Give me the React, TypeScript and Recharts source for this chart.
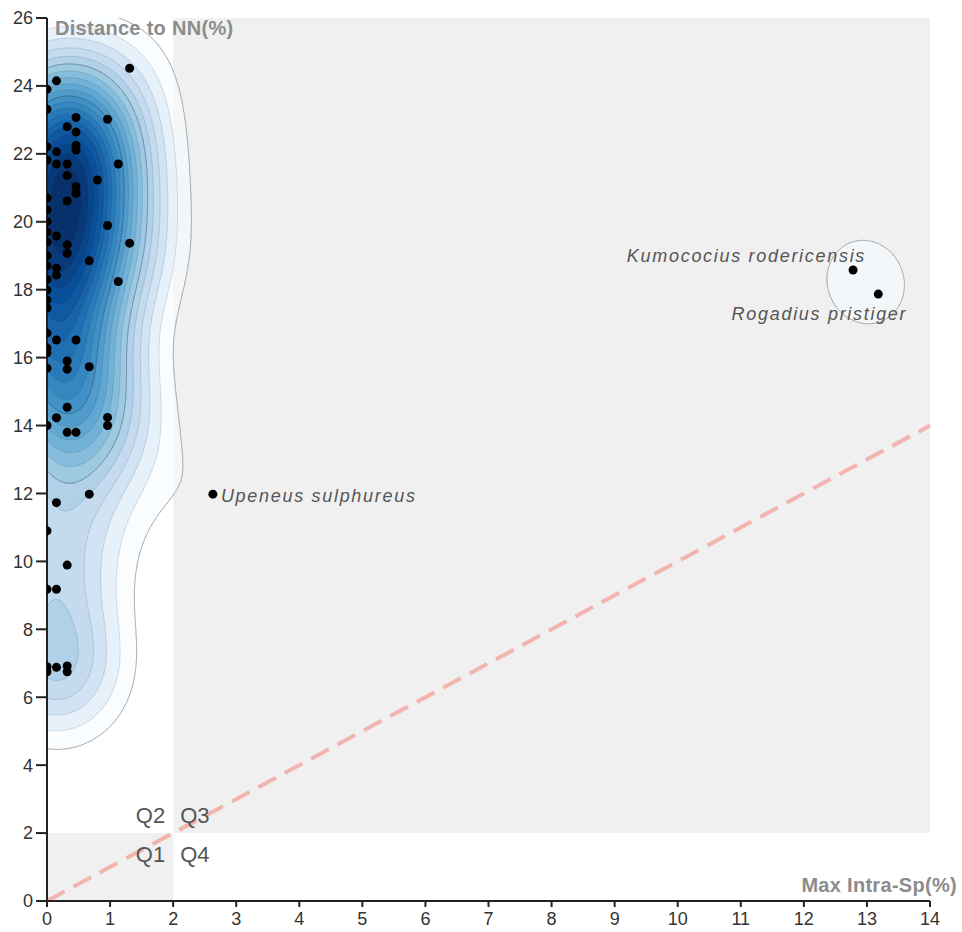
import React, { useMemo } from 'react';
import { ScatterChart, Scatter, XAxis, YAxis, ReferenceArea, ReferenceLine, ReferenceDot } from 'recharts';

// max intra-specific distance (%) of each species
const intraSp = [
  1.31, 0.15, 0, 0, 0.46, 0.96, 0.32, 0.46, 0.46, 0.46, 0.15, 0, 0, 0.15, 0.32, 1.13,
  0.32, 0.8, 0.46, 0.46, 0.32, 0, 0, 0, 0, 0, 0, 0, 0, 0, 0, 0,
  0.96, 1.31, 0.15, 0.32, 0.32, 0.67, 0.15, 0.15, 1.13, 0, 0.15, 0.46, 0, 0, 0.32, 0.32,
  0, 0.67, 0.32, 0.15, 0.96, 0.96, 0, 0.32, 0.46, 0.67, 0.15, 0, 0.32, 0, 0.15, 0,
  0, 0.15, 0.32, 0.32,
];
// distance to nearest neighbour (%) of each species
const nnDist = [
  24.52, 24.15, 23.9, 23.31, 23.07, 23.02, 22.8, 22.64, 22.25, 22.11, 22.06, 22.21, 21.82, 21.7, 21.7, 21.7,
  21.36, 21.23, 21.03, 20.84, 20.61, 20.7, 20.35, 20.0, 19.7, 19.4, 19.0, 18.7, 18.3, 17.99, 17.7, 17.46,
  19.89, 19.37, 19.58, 19.32, 19.07, 18.85, 18.63, 18.43, 18.24, 16.72, 16.52, 16.52, 16.28, 16.14, 15.9, 15.66,
  15.69, 15.73, 14.54, 14.23, 14.24, 14.0, 14.0, 13.8, 13.8, 11.98, 11.73, 10.9, 9.89, 9.18, 9.18, 6.9,
  6.75, 6.88, 6.92, 6.75,
];

const speciesNames = ['Upeneus sulphureus', 'Kumococius rodericensis', 'Rogadius pristiger'];
const speciesX = [2.63, 12.78, 13.18];
const speciesY = [11.98, 18.58, 17.87];

const quadrantNames = ['Q1', 'Q2', 'Q3', 'Q4'];

const xTicks = [0, 1, 2, 3, 4, 5, 6, 7, 8, 9, 10, 11, 12, 13, 14];
const yTicks = [0, 2, 4, 6, 8, 10, 12, 14, 16, 18, 20, 22, 24, 26];

const X_DOMAIN: [number, number] = [0, 14];
const Y_DOMAIN: [number, number] = [0, 26];
const THRESHOLD = 2;

const points = [
  ...intraSp.map((v, i) => ({ x: v, y: nnDist[i] })),
  ...speciesX.map((v, i) => ({ x: v, y: speciesY[i] })),
];

const FONT = '"Liberation Sans", Arial, Helvetica, sans-serif';

// label placement relative to the point, in px
const speciesLabelPos: Record<string, { dx: number; dy: number; anchor: 'start' | 'end' }> = {
  'Upeneus sulphureus': { dx: 8, dy: 8, anchor: 'start' },
  'Kumococius rodericensis': { dx: 13, dy: -8, anchor: 'end' },
  'Rogadius pristiger': { dx: 29, dy: 26, anchor: 'end' },
};
const quadrantPos: Record<string, { dx: number; dy: number; anchor: 'start' | 'end' }> = {
  Q1: { dx: -8, dy: 29, anchor: 'end' },
  Q2: { dx: -8, dy: -10, anchor: 'end' },
  Q3: { dx: 7, dy: -10, anchor: 'start' },
  Q4: { dx: 7, dy: 29, anchor: 'start' },
};

const BLUES = ['#f7fbff', '#deebf7', '#c6dbef', '#9ecae1', '#6baed6', '#4292c6', '#2171b5', '#08519c', '#08306b'];
function blues(t: number) {
  const s = Math.max(0, Math.min(1, t)) * (BLUES.length - 1);
  const i = Math.min(BLUES.length - 2, Math.floor(s));
  const f = s - i;
  const a = parseInt(BLUES[i].slice(1), 16);
  const b = parseInt(BLUES[i + 1].slice(1), 16);
  const ch = (sh: number) => Math.round(((a >> sh) & 255) * (1 - f) + ((b >> sh) & 255) * f);
  return `rgb(${ch(16)},${ch(8)},${ch(0)})`;
}

// gaussian kernel density in screen space, contoured with marching squares
const SIGMA_X = 46;
const SIGMA_Y = 50;
const OUTER = 1.35;
const BANDS = 20;
const CELL = 3;

function computeDensity(ox: number, oy: number, w: number, h: number) {
  const sx = (v: number) => ox + ((v - X_DOMAIN[0]) / (X_DOMAIN[1] - X_DOMAIN[0])) * w;
  const sy = (v: number) => oy + (1 - (v - Y_DOMAIN[0]) / (Y_DOMAIN[1] - Y_DOMAIN[0])) * h;
  const nx = Math.ceil(w / CELL) + 1;
  const ny = Math.ceil(h / CELL) + 1;
  const g = new Float64Array(nx * ny);
  const sx2 = 2 * SIGMA_X * SIGMA_X;
  const sy2 = 2 * SIGMA_Y * SIGMA_Y;
  for (const p of points) {
    const px = sx(p.x);
    const py = sy(p.y);
    const i0 = Math.max(0, Math.floor((px - ox - 4 * SIGMA_X) / CELL));
    const i1 = Math.min(nx - 1, Math.ceil((px - ox + 4 * SIGMA_X) / CELL));
    const j0 = Math.max(0, Math.floor((py - oy - 4 * SIGMA_Y) / CELL));
    const j1 = Math.min(ny - 1, Math.ceil((py - oy + 4 * SIGMA_Y) / CELL));
    for (let j = j0; j <= j1; j++) {
      const dy = oy + j * CELL - py;
      const ey = (dy * dy) / sy2;
      for (let i = i0; i <= i1; i++) {
        const dx = ox + i * CELL - px;
        g[j * nx + i] += Math.exp(-(dx * dx) / sx2 - ey);
      }
    }
  }
  let max = 0;
  for (let k = 0; k < g.length; k++) if (g[k] > max) max = g[k];
  const step = (max - OUTER) / BANDS;
  const thresholds = [OUTER];
  for (let k = 1; k < BANDS; k++) thresholds.push(OUTER + k * step);

  const X = (i: number) => Math.min(ox + i * CELL, ox + w);
  const Y = (j: number) => Math.min(oy + j * CELL, oy + h);
  const f = (v: number) => v.toFixed(1);

  const levels: { fill: string; line: string; k: number }[] = [];
  thresholds.forEach((t, k) => {
    const fill: string[] = [];
    const line: string[] = [];
    for (let j = 0; j < ny - 1; j++) {
      let run = -1;
      const flush = (end: number) => {
        if (run >= 0) {
          fill.push(`M${f(X(run))} ${f(Y(j))}H${f(X(end))}V${f(Y(j + 1))}H${f(X(run))}Z`);
          run = -1;
        }
      };
      for (let i = 0; i < nx - 1; i++) {
        const a = g[j * nx + i];
        const b = g[j * nx + i + 1];
        const c = g[(j + 1) * nx + i + 1];
        const d = g[(j + 1) * nx + i];
        const ia = a >= t, ib = b >= t, ic = c >= t, id = d >= t;
        if (ia && ib && ic && id) {
          if (run < 0) run = i;
          continue;
        }
        flush(i);
        if (!ia && !ib && !ic && !id) continue;
        const corners: [number, number, number, boolean][] = [
          [X(i), Y(j), a, ia],
          [X(i + 1), Y(j), b, ib],
          [X(i + 1), Y(j + 1), c, ic],
          [X(i), Y(j + 1), d, id],
        ];
        const pts: [number, number, boolean][] = [];
        for (let q = 0; q < 4; q++) {
          const p0 = corners[q];
          const p1 = corners[(q + 1) % 4];
          if (p0[3]) pts.push([p0[0], p0[1], false]);
          if (p0[3] !== p1[3]) {
            const r = (t - p0[2]) / (p1[2] - p0[2]);
            pts.push([p0[0] + (p1[0] - p0[0]) * r, p0[1] + (p1[1] - p0[1]) * r, true]);
          }
        }
        fill.push('M' + pts.map((p) => `${f(p[0])} ${f(p[1])}`).join('L') + 'Z');
        for (let q = 0; q < pts.length; q++) {
          const p0 = pts[q];
          const p1 = pts[(q + 1) % pts.length];
          if (p0[2] && p1[2]) line.push(`M${f(p0[0])} ${f(p0[1])}L${f(p1[0])} ${f(p1[1])}`);
        }
      }
      flush(nx - 1);
    }
    levels.push({ fill: fill.join(''), line: line.join(''), k });
  });
  return levels;
}

function bandColor(k: number) {
  const u = (k - 1) / (BANDS - 2);
  return blues(0.08 + 0.92 * Math.pow(u, 0.75));
}

function DensityLayer(props: any) {
  const { x, y, width, height } = props;
  const ok = [x, y, width, height].every((v) => Number.isFinite(v)) && width > 0 && height > 0;
  const levels = useMemo(() => (ok ? computeDensity(x, y, width, height) : null), [ok, x, y, width, height]);
  if (!levels) return null;
  return (
    <g>
      {levels.map((l) => (
        <path
          key={`f${l.k}`}
          d={l.fill}
          fill={l.k === 0 ? '#f7fbff' : bandColor(l.k)}
          fillOpacity={l.k === 0 ? 0.6 : 1}
          stroke="none"
        />
      ))}
      {levels.map((l) => (
        <path
          key={`l${l.k}`}
          d={l.line}
          fill="none"
          stroke={l.k === 0 ? '#9a9a9a' : '#23344a'}
          strokeOpacity={l.k === 0 ? 0.7 : l.k % 5 === 0 ? 0.4 : 0.15}
          strokeWidth={l.k === 0 ? 1 : 0.8}
          strokeLinecap="round"
        />
      ))}
    </g>
  );
}

const Dot = (props: any) => <circle cx={props.cx} cy={props.cy} r={4.5} fill="#000" />;

export default function App() {
  return (
    <div style={{ position: 'absolute', left: 0, top: 0, width: 962, height: 932, background: '#fff' }}>
      <ScatterChart
        width={962}
        height={932}
        margin={{ top: 18, right: 32, bottom: 0, left: 0 }}
        style={{ fontFamily: FONT }}
      >
        <XAxis
          type="number"
          dataKey="x"
          domain={X_DOMAIN}
          ticks={xTicks}
          allowDataOverflow
          height={31}
          tickSize={6}
          tickMargin={5}
          axisLine={{ stroke: '#222', strokeWidth: 2 }}
          tickLine={{ stroke: '#222', strokeWidth: 2 }}
          tick={{ fontSize: 18, fill: '#333', fontFamily: FONT }}
        />
        <YAxis
          type="number"
          dataKey="y"
          domain={Y_DOMAIN}
          ticks={yTicks}
          allowDataOverflow
          width={47}
          tickSize={11}
          tickMargin={3}
          axisLine={{ stroke: '#222', strokeWidth: 2 }}
          tickLine={{ stroke: '#222', strokeWidth: 2 }}
          tick={{ fontSize: 18, fill: '#333', fontFamily: FONT }}
        />
        <ReferenceArea x1={X_DOMAIN[0]} x2={THRESHOLD} y1={Y_DOMAIN[0]} y2={THRESHOLD} fill="#f0f0f0" fillOpacity={1} stroke="none" />
        <ReferenceArea x1={THRESHOLD} x2={X_DOMAIN[1]} y1={THRESHOLD} y2={Y_DOMAIN[1]} fill="#f0f0f0" fillOpacity={1} stroke="none" />
        <ReferenceArea
          x1={X_DOMAIN[0]}
          x2={X_DOMAIN[1]}
          y1={Y_DOMAIN[0]}
          y2={Y_DOMAIN[1]}
          shape={(p: any) => <DensityLayer {...p} />}
        />
        <ReferenceLine
          segment={[{ x: 0, y: 0 }, { x: 14, y: 14 }]}
          stroke="#f2b4af"
          strokeWidth={4}
          strokeDasharray="20 10"
        />
        <Scatter data={points} shape={Dot} isAnimationActive={false} />
        {quadrantNames.map((q) => (
          <ReferenceDot
            key={q}
            x={THRESHOLD}
            y={THRESHOLD}
            r={0}
            shape={(p: any) => (
              <text
                x={p.cx + quadrantPos[q].dx}
                y={p.cy + quadrantPos[q].dy}
                textAnchor={quadrantPos[q].anchor}
                fontSize={22}
                fill="#555"
                fontFamily={FONT}
              >
                {q}
              </text>
            )}
          />
        ))}
        {speciesNames.map((s, i) => (
          <ReferenceDot
            key={s}
            x={speciesX[i]}
            y={speciesY[i]}
            r={0}
            shape={(p: any) => (
              <text
                x={p.cx + speciesLabelPos[s].dx}
                y={p.cy + speciesLabelPos[s].dy}
                textAnchor={speciesLabelPos[s].anchor}
                fontSize={18}
                fontStyle="italic"
                letterSpacing={1.7}
                fill="#555"
                fontFamily={FONT}
              >
                {s}
              </text>
            )}
          />
        ))}
        <ReferenceDot
          x={X_DOMAIN[0]}
          y={Y_DOMAIN[1]}
          r={0}
          shape={(p: any) => (
            <text x={p.cx + 8} y={p.cy + 17} fontSize={20} fontWeight="bold" letterSpacing={0.3} fill="#8c8c8c" fontFamily={FONT}>
              Distance to NN(%)
            </text>
          )}
        />
        <ReferenceDot
          x={X_DOMAIN[1]}
          y={Y_DOMAIN[0]}
          r={0}
          shape={(p: any) => (
            <text x={p.cx + 27} y={p.cy - 9} textAnchor="end" fontSize={20} fontWeight="bold" letterSpacing={0.3} fill="#8c8c8c" fontFamily={FONT}>
              Max Intra-Sp(%)
            </text>
          )}
        />
      </ScatterChart>
    </div>
  );
}
